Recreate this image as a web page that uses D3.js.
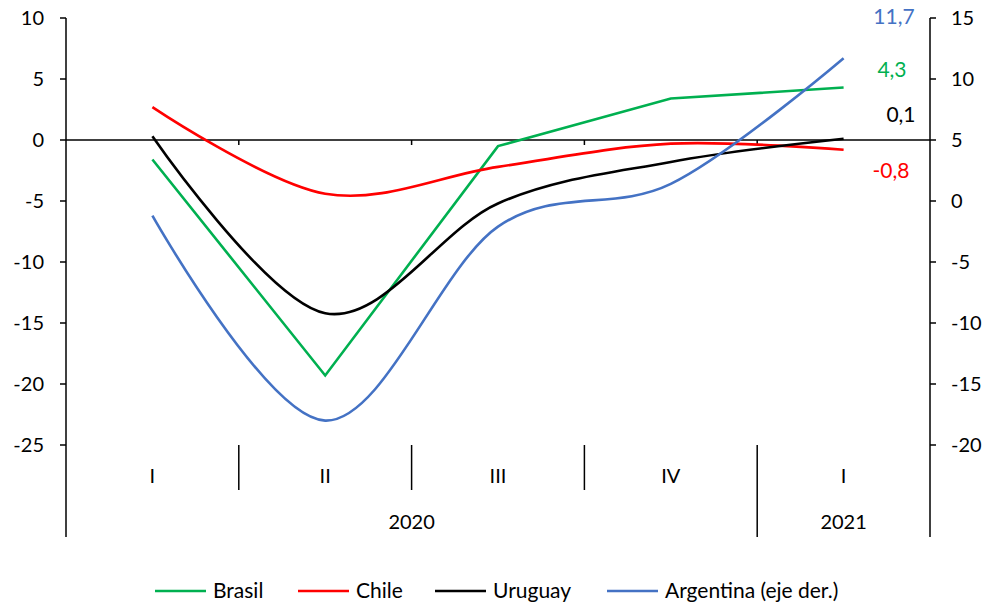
<!DOCTYPE html>
<html>
<head>
<meta charset="utf-8">
<script src="https://cdn.jsdelivr.net/npm/d3@7"></script>
<style>
  body { margin: 0; background: #fff; }
  text { font-family: Lato, "Open Sans", sans-serif; fill: #000; }
</style>
</head>
<body>
<div id="chart"></div>
<script>
// quarters and years
const quarters = ['I', 'II', 'III', 'IV', 'I']
const years = [
  { label: '2020', from: 0, to: 4 },
  { label: '2021', from: 4, to: 5 },
]

// series values (left axis), Argentina on right axis
const brasil = [-1.6, -19.3, -0.5, 3.4, 4.3]
const chile = [2.7, -4.4, -2.2, -0.3, -0.8]
const uruguay = [0.3, -14.2, -5.2, -1.8, 0.1]
const argentina = [-1.2, -18.0, -2.1, 1.4, 11.7]

const leftTicks = [10, 5, 0, -5, -10, -15, -20, -25]
const rightTicks = [15, 10, 5, 0, -5, -10, -15, -20]

const series = [
  { name: 'Brasil', values: brasil, color: '#00B050', axis: 'left', smooth: false, label: '4,3', lx: 892, ly: 70, legX: 155 },
  { name: 'Chile', values: chile, color: '#FF0000', axis: 'left', smooth: true, label: '-0,8', lx: 891, ly: 171, legX: 298 },
  { name: 'Uruguay', values: uruguay, color: '#000000', axis: 'left', smooth: true, label: '0,1', lx: 901, ly: 115, legX: 435 },
  { name: 'Argentina (eje der.)', values: argentina, color: '#4472C4', axis: 'right', smooth: true, label: '11,7', lx: 894, ly: 17, legX: 607 },
]

const W = 987, H = 603
const m = { left: 66, right: 930, top: 18, bottom: 445, axisEnd: 537 }
const fs = 20

const svg = d3.select('#chart').append('svg')
  .attr('width', W).attr('height', H)

const x = d3.scaleBand().domain(d3.range(quarters.length)).range([m.left, m.right])
const cx = i => x(i) + x.bandwidth() / 2
const yL = d3.scaleLinear().domain([-25, 10]).range([m.bottom, m.top])
const yR = d3.scaleLinear().domain([-20, 15]).range([m.bottom, m.top])

// left axis
const gl = svg.append('g')
gl.append('line').attr('x1', m.left).attr('x2', m.left).attr('y1', m.top).attr('y2', m.axisEnd)
  .attr('stroke', '#000').attr('stroke-width', 1.5)
gl.selectAll('.t').data(leftTicks).join('line')
  .attr('x1', m.left - 6).attr('x2', m.left).attr('y1', d => yL(d)).attr('y2', d => yL(d))
  .attr('stroke', '#000').attr('stroke-width', 1.5)
gl.selectAll('text').data(leftTicks).join('text')
  .attr('x', 44).attr('y', d => yL(d)).attr('dy', '0.35em')
  .attr('text-anchor', 'end').attr('font-size', fs).text(d => d)

// right axis
const gr = svg.append('g')
gr.append('line').attr('x1', m.right).attr('x2', m.right).attr('y1', m.top).attr('y2', m.axisEnd)
  .attr('stroke', '#000').attr('stroke-width', 1.5)
gr.selectAll('.t').data(rightTicks).join('line')
  .attr('x1', m.right).attr('x2', m.right + 6).attr('y1', d => yR(d)).attr('y2', d => yR(d))
  .attr('stroke', '#000').attr('stroke-width', 1.5)
gr.selectAll('text').data(rightTicks).join('text')
  .attr('x', 951).attr('y', d => yR(d)).attr('dy', '0.35em')
  .attr('text-anchor', 'start').attr('font-size', fs).text(d => d)

// zero line with small ticks at category boundaries
svg.append('line').attr('x1', m.left).attr('x2', m.right).attr('y1', yL(0)).attr('y2', yL(0))
  .attr('stroke', '#000').attr('stroke-width', 1.5)
svg.selectAll('.zt').data(d3.range(1, quarters.length)).join('line')
  .attr('x1', d => x(d)).attr('x2', d => x(d))
  .attr('y1', yL(0)).attr('y2', yL(0) + 5)
  .attr('stroke', '#000').attr('stroke-width', 1.5)

// category axis below
svg.selectAll('.sep').data(d3.range(1, quarters.length)).join('line')
  .attr('x1', d => x(d)).attr('x2', d => x(d))
  .attr('y1', m.bottom).attr('y2', d => years.some(y => y.from === d) ? m.axisEnd : 490)
  .attr('stroke', '#000').attr('stroke-width', 1.5)
svg.selectAll('.ql').data(quarters).join('text')
  .attr('x', (d, i) => cx(i)).attr('y', 476).attr('dy', '0.35em')
  .attr('text-anchor', 'middle').attr('font-size', fs).text(d => d)
svg.selectAll('.yl').data(years).join('text')
  .attr('x', d => (x(d.from) + x(d.to - 1) + x.bandwidth()) / 2)
  .attr('y', 522).attr('dy', '0.35em')
  .attr('text-anchor', 'middle').attr('font-size', fs).text(d => d.label)

// lines
series.forEach(s => {
  const y = s.axis === 'left' ? yL : yR
  const line = d3.line()
    .x((d, i) => cx(i))
    .y(d => y(d))
    .curve(s.smooth ? d3.curveCardinal.tension(0) : d3.curveLinear)
  svg.append('path').datum(s.values)
    .attr('d', line)
    .attr('fill', 'none').attr('stroke', s.color).attr('stroke-width', 2.6)
  // end labels
  svg.append('text')
    .attr('x', s.lx).attr('y', s.ly).attr('dy', '0.35em')
    .attr('text-anchor', 'middle').attr('font-size', 21)
    .style('fill', s.color).text(s.label)
})

// legend
const lg = svg.selectAll('.lg').data(series).join('g')
  .attr('transform', d => `translate(${d.legX}, 591)`)
lg.append('line').attr('x1', 0).attr('x2', 51).attr('y1', 0).attr('y2', 0)
  .attr('stroke', d => d.color).attr('stroke-width', 2.6)
lg.append('text').attr('x', 58).attr('dy', '0.35em').attr('font-size', 21)
  .text(d => d.name)
</script>
</body>
</html>
